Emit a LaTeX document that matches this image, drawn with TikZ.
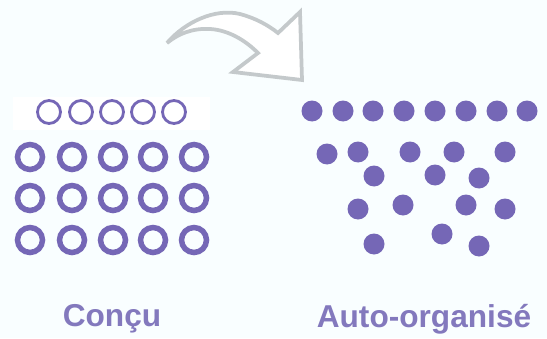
\documentclass[tikz,border=0pt]{standalone}
\usepackage{fontspec}
\setmainfont{Liberation Sans}
\definecolor{ringcol}{RGB}{117,103,182}
\definecolor{labelcol}{RGB}{131,121,189}
\definecolor{arrowcol}{RGB}{196,201,203}
\definecolor{bgcol}{RGB}{249,254,255}

\tikzstyle{smallring} = [circle,draw=ringcol,line width=0.056cm,minimum size=0.46cm,inner sep=0pt]
\tikzstyle{bigring} = [circle,draw=ringcol,line width=0.11cm,minimum size=0.5cm,inner sep=0pt]
\tikzstyle{dot} = [circle,fill=ringcol,minimum size=0.42cm,inner sep=0pt]
\tikzstyle{caption} = [font=\bfseries\fontsize{18}{20}\selectfont,text=labelcol]

\begin{document}
\begin{tikzpicture}[x=0.02cm,y=-0.02cm]
		\fill[bgcol] (0,0) rectangle (547,338);
		\useasboundingbox (0,0) rectangle (547,338);
		\fill[white] (13,97) rectangle (210,130);
		% designed: rings on a grid
		\foreach \i/\x in {1/49,2/81,3/112,4/143,5/174}
			\node[smallring] (s\i) at (\x,112) {};
		\foreach \j/\y in {1/157,2/198,3/240}
			\foreach \i/\x in {1/30,2/72,3/113,4/153,5/194}
				\node[bigring] (r\j\i) at (\x,\y) {};
		% self-organised: dots
		\foreach \i/\x in {1/312,2/343,3/373,4/404,5/435,6/466,7/497,8/527}
			\node[dot] (t\i) at (\x,111) {};
		\foreach \i/\x/\y in {1/327/154,2/358/152,3/410/152,4/454/152,5/505/152,
			6/374/176,7/435/175,8/479/178,
			9/358/209,10/403/205,11/466/205,12/505/209,
			13/374/244,14/442/234,15/479/246}
			\node[dot] (d\i) at (\x,\y) {};
		% arrow
		\draw[arrowcol,line width=0.075cm,line join=miter,fill=white]
			(167,43) .. controls (185,22) and (215,8) .. (240,14)
			.. controls (255,18) and (268,25) .. (278,33)
			-- (300,12) -- (302,80) -- (233,72) -- (258,53)
			.. controls (245,40) and (228,30) .. (210,29)
			.. controls (192,28) and (178,34) .. cycle;
		\node[caption] (designed) at (112,319) {Conçu};
		\node[caption] (selforg) at (424,319) {Auto-organisé};
\end{tikzpicture}
\end{document}
